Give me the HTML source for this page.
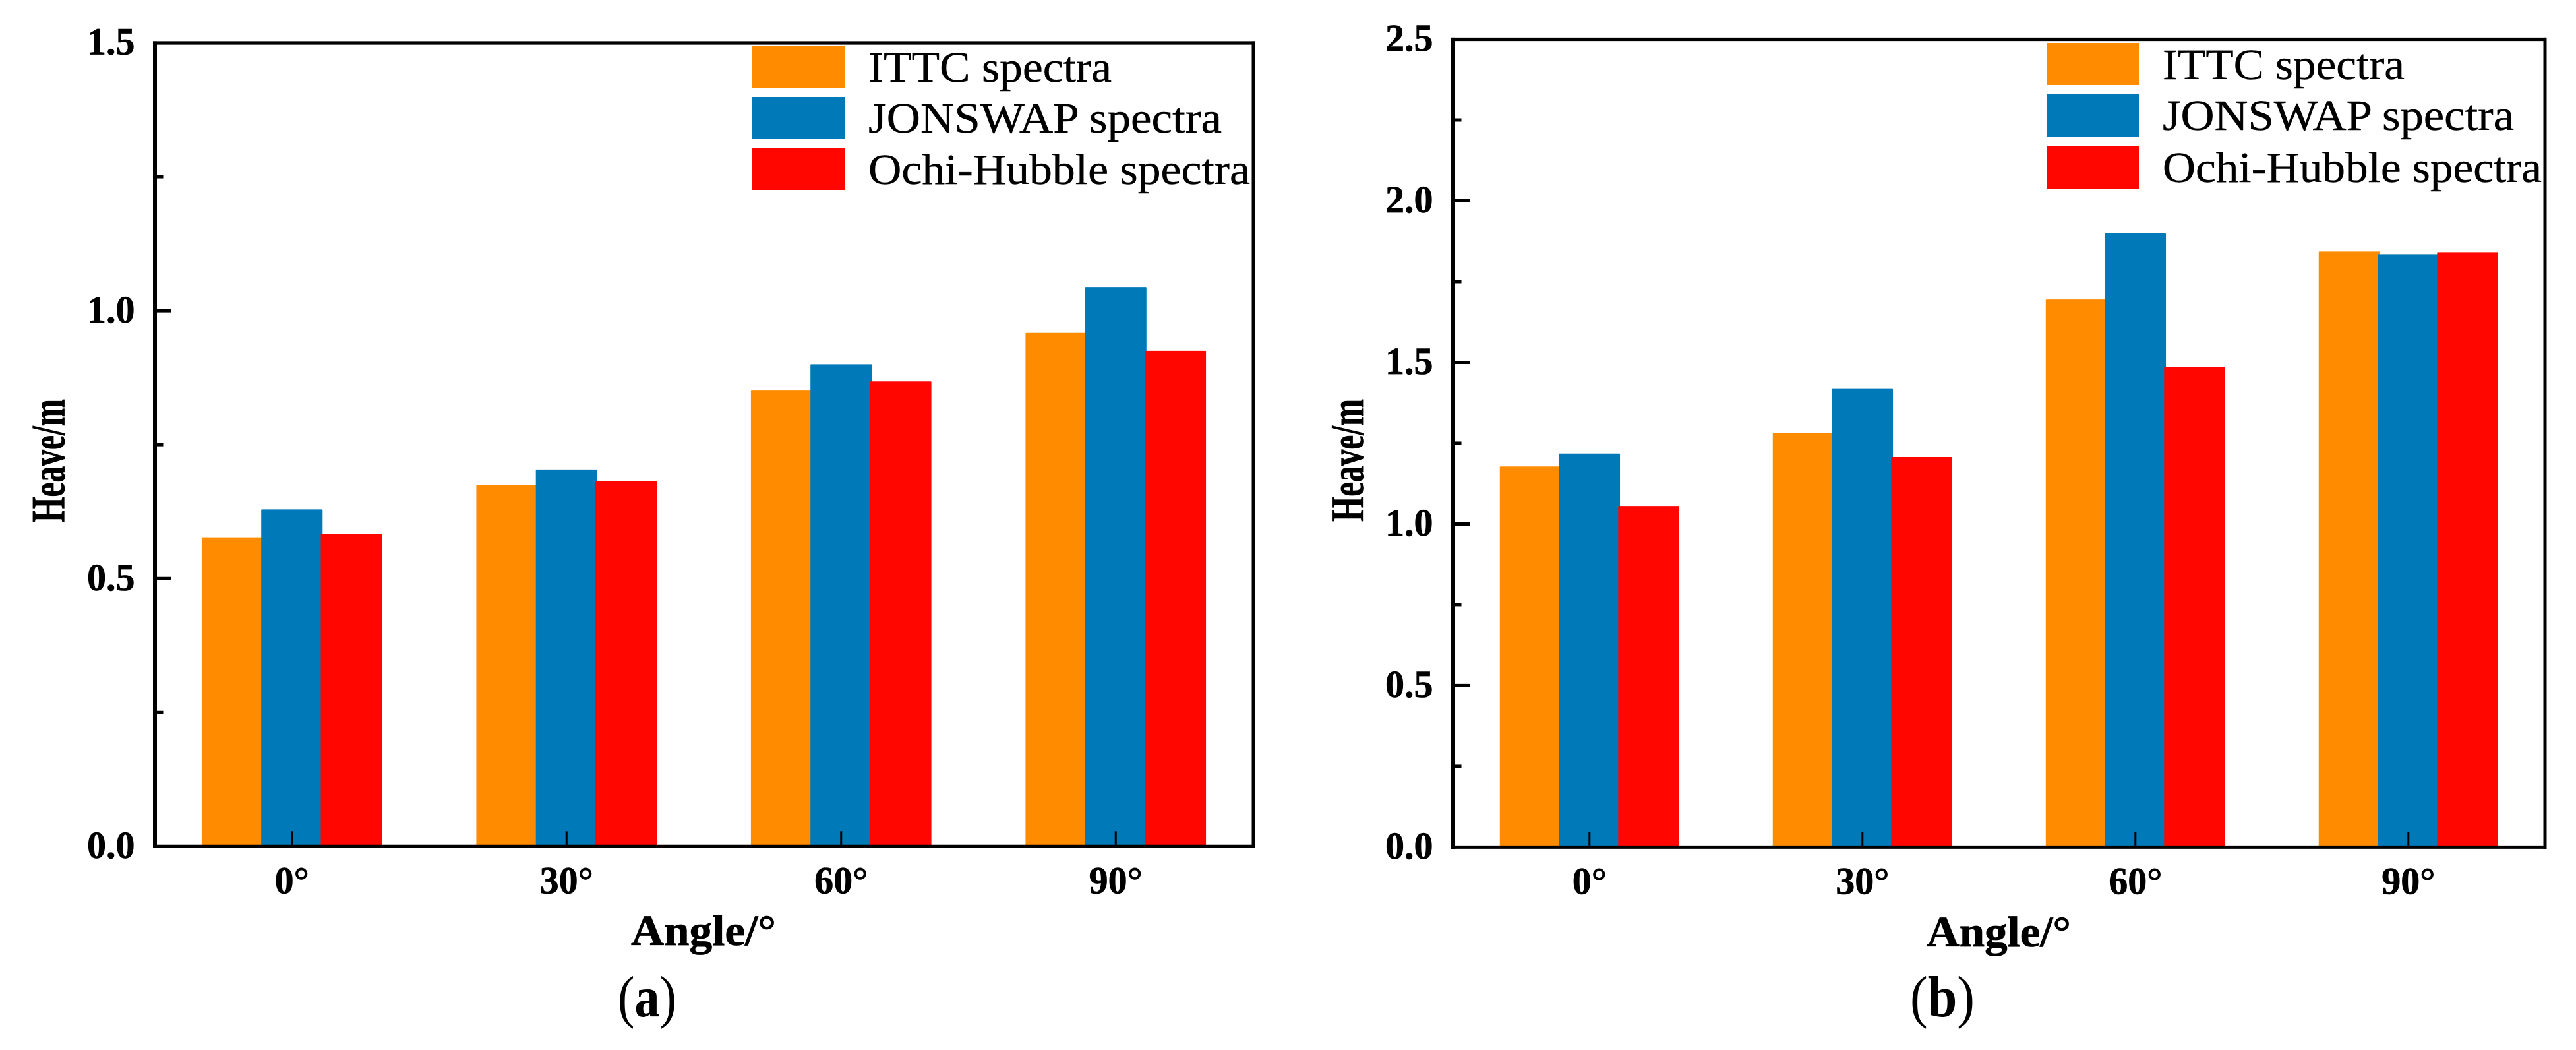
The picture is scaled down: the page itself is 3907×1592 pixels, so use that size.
<!DOCTYPE html>
<html lang="en">
<head>
<meta charset="utf-8">
<title>Heave versus angle for three wave spectra</title>
<style>
html,body{margin:0;padding:0;background:#fff;}
body{width:3907px;height:1592px;overflow:hidden;}
svg{display:block;}
text{font-family:"Liberation Serif","Times New Roman",serif;fill:#000;}
.tick{font-size:58px;font-weight:700;stroke:#000;stroke-width:0.7px;}
.title{font-size:66px;font-weight:700;stroke:#000;stroke-width:0.8px;}
.ytitle{font-size:72px;font-weight:700;stroke:#000;stroke-width:0.8px;}
.legend{font-size:65.5px;stroke:#000;stroke-width:0.4px;}
.caption{font-size:88px;}
</style>
</head>
<body>
<svg id="figure" xmlns="http://www.w3.org/2000/svg" width="3907" height="1592" viewBox="0 0 3907 1592">
  <rect x="0" y="0" width="3907" height="1592" fill="#fff"/>

  <g id="panel-a"></g>
  <g id="panel-b"></g>

  <g>
    <g>
      <rect x="1140" y="69" width="141" height="64" fill="#FF8C00"/>
      <text class="legend" x="1317" y="124" textLength="369" lengthAdjust="spacingAndGlyphs">ITTC spectra</text>
    </g>
    <g>
      <rect x="1140" y="147" width="141" height="64" fill="#0079B9"/>
      <text class="legend" x="1317" y="201" textLength="536" lengthAdjust="spacingAndGlyphs">JONSWAP spectra</text>
    </g>
    <g>
      <rect x="1140" y="224" width="141" height="64" fill="#FF0600"/>
      <text class="legend" x="1317" y="279" textLength="579" lengthAdjust="spacingAndGlyphs">Ochi-Hubble spectra</text>
    </g>
  </g>

  <g>
    <g>
      <rect x="3105" y="65" width="139" height="64" fill="#FF8C00"/>
      <text class="legend" x="3280" y="120" textLength="367" lengthAdjust="spacingAndGlyphs">ITTC spectra</text>
    </g>
    <g>
      <rect x="3105" y="143" width="139" height="64" fill="#0079B9"/>
      <text class="legend" x="3280" y="197" textLength="533" lengthAdjust="spacingAndGlyphs">JONSWAP spectra</text>
    </g>
    <g>
      <rect x="3105" y="222" width="139" height="64" fill="#FF0600"/>
      <text class="legend" x="3280" y="276" textLength="575" lengthAdjust="spacingAndGlyphs">Ochi-Hubble spectra</text>
    </g>
  </g>

  <text class="title" x="957" y="1433" textLength="220" lengthAdjust="spacingAndGlyphs">Angle/°</text>
  <text class="title" x="2922" y="1435" textLength="219" lengthAdjust="spacingAndGlyphs">Angle/°</text>
  <text class="ytitle" transform="translate(97.7 792) rotate(-90)" x="0" y="0" textLength="187" lengthAdjust="spacingAndGlyphs">Heave/m</text>
  <text class="ytitle" transform="translate(2068 791) rotate(-90)" x="0" y="0" textLength="186" lengthAdjust="spacingAndGlyphs">Heave/m</text>

  <text class="caption" x="937" y="1541" textLength="89" lengthAdjust="spacingAndGlyphs">(<tspan font-weight="700">a</tspan>)</text>
  <text class="caption" x="2897" y="1541" textLength="98" lengthAdjust="spacingAndGlyphs">(<tspan font-weight="700">b</tspan>)</text>
</svg>

<script>
const categories = ['0°', '30°', '60°', '90°'];

const ittcA = [0.577, 0.6745, 0.851, 0.9585];
const jonswapA = [0.629, 0.7035, 0.900, 1.0443];
const ochiA = [0.584, 0.682, 0.868, 0.9252];
const yTickLabelsA = ['0.0', '0.5', '1.0', '1.5'];
const yMaxA = 1.5;

const ittcB = [1.178, 1.281, 1.6945, 1.843];
const jonswapB = [1.2177, 1.418, 1.899, 1.835];
const ochiB = [1.0557, 1.207, 1.485, 1.841];
const yTickLabelsB = ['0.0', '0.5', '1.0', '1.5', '2.0', '2.5'];
const yMaxB = 2.5;

const SVG_NS = 'http://www.w3.org/2000/svg';

function make(parent, tag, props, text) {
  const el = document.createElementNS(SVG_NS, tag);
  for (const key in props) el.setAttribute(key, props[key]);
  if (text !== undefined) el.textContent = text;
  parent.appendChild(el);
  return el;
}

function drawPanel(rootId, frame, series, tickLabels, yMax) {
  const root = document.getElementById(rootId);
  const band = (frame.right - frame.left) / categories.length;
  const xCenter = function (i) { return frame.left + band * (i + 0.5) + frame.centerShift; };
  const yScale = function (v) { return frame.bottom - (v / yMax) * (frame.bottom - frame.top); };
  const barWidth = band * 0.2235;
  const barStep = band * 0.2168;

  series.forEach(function (s, si) {
    const group = make(root, 'g', {});
    
    
    s.values.forEach(function (v, i) {
      const y = yScale(v);
      const x = xCenter(i) + (si - 1) * barStep - barWidth / 2;
      const bar = make(group, 'rect', {
        x: x, y: y, width: barWidth, height: frame.bottom - y, fill: s.color, rx: 1
      });
      
      
    });
  });

  const axes = make(root, 'g', { stroke: '#000', fill: 'none' });
  
  
  const leftLine = make(axes, 'line', { x1: frame.left, x2: frame.left, y1: frame.top - 2.6, y2: frame.bottom + 2.6, 'stroke-width': 6 });
  
  
  const rightLine = make(axes, 'line', { x1: frame.right, x2: frame.right, y1: frame.top - 2.6, y2: frame.bottom + 2.6, 'stroke-width': 5 });
  
  
  const topLine = make(axes, 'line', { x1: frame.left - 3, x2: frame.right + 2.5, y1: frame.top, y2: frame.top, 'stroke-width': 5.2 });
  
  
  const bottomLine = make(axes, 'line', { x1: frame.left - 3, x2: frame.right + 2.5, y1: frame.bottom, y2: frame.bottom, 'stroke-width': 5 });
  
  

  tickLabels.forEach(function (label, i) {
    const value = parseFloat(label);
    const y = yScale(value);
    if (i > 0 && i < tickLabels.length - 1) {
      const major = make(axes, 'line', { x1: frame.left, x2: frame.left + 25, y1: y, y2: y, 'stroke-width': 5 });
      
      
    }
    if (i < tickLabels.length - 1) {
      const my = yScale((value + parseFloat(tickLabels[i + 1])) / 2);
      const minor = make(axes, 'line', { x1: frame.left, x2: frame.left + 12.5, y1: my, y2: my, 'stroke-width': 5 });
      
      
    }
    const text = make(root, 'text', {
      class: 'tick', x: frame.left - 30.5, y: y + 17.7, 'text-anchor': 'end'
    }, label);
    
    
  });

  categories.forEach(function (label, i) {
    const x = xCenter(i);
    const tick = make(axes, 'line', { x1: x, x2: x, y1: frame.bottom, y2: frame.bottom - 23, 'stroke-width': 3 });
    
    
    const text = make(root, 'text', {
      class: 'tick', x: x, y: frame.bottom + 71, 'text-anchor': 'middle'
    }, label);
    
    
  });
}

drawPanel('panel-a', { left: 235, right: 1901, top: 65, bottom: 1283.3, centerShift: -0.5 }, [
  { name: 'ittc', color: '#FF8C00', values: ittcA },
  { name: 'jonswap', color: '#0079B9', values: jonswapA },
  { name: 'ochi-hubble', color: '#FF0600', values: ochiA }
], yTickLabelsA, yMaxA);

drawPanel('panel-b', { left: 2204, right: 3860, top: 59.5, bottom: 1284.4, centerShift: -0.2 }, [
  { name: 'ittc', color: '#FF8C00', values: ittcB },
  { name: 'jonswap', color: '#0079B9', values: jonswapB },
  { name: 'ochi-hubble', color: '#FF0600', values: ochiB }
], yTickLabelsB, yMaxB);
</script>
</body>
</html>
